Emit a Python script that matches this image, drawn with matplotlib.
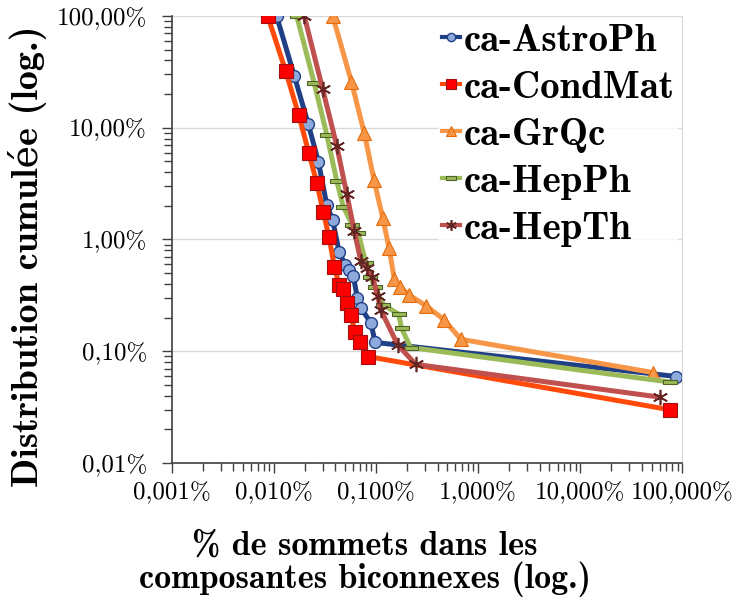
import numpy as np
import matplotlib
matplotlib.use("Agg")
import matplotlib.pyplot as plt
from matplotlib.ticker import FuncFormatter, LogLocator

# % de sommets (x) / distribution cumulee (y), both in percent
astro_x = [0.0106, 0.0158, 0.0217, 0.0272, 0.0329, 0.0376, 0.0434, 0.0497, 0.0547,
           0.0598, 0.0656, 0.0713, 0.0893, 0.0977, 87.4]
astro_y = [100, 29.1, 10.7, 4.97, 2.04, 1.48, 0.78, 0.593, 0.535,
           0.472, 0.299, 0.243, 0.178, 0.120, 0.0594]

cond_x = [0.00867, 0.0130, 0.01746, 0.0219, 0.0262, 0.0304, 0.0346, 0.0390, 0.0434,
          0.0474, 0.0524, 0.0565, 0.0618, 0.0697, 0.0830, 76.3]
cond_y = [100, 32.2, 13.0, 5.99, 3.23, 1.75, 1.05, 0.573, 0.393,
          0.361, 0.269, 0.212, 0.150, 0.120, 0.0897, 0.0299]

grqc_x = [0.0376, 0.0573, 0.0767, 0.0955, 0.1164, 0.134, 0.151, 0.173, 0.210,
          0.309, 0.465, 0.676, 51.6]
grqc_y = [100, 25.8, 8.93, 3.39, 1.55, 0.841, 0.441, 0.377, 0.319,
          0.255, 0.191, 0.128, 0.0645]

hepph_x = [0.0167, 0.0247, 0.0329, 0.0412, 0.0477, 0.0586, 0.0670, 0.0793, 0.0873,
           0.0977, 0.118, 0.166, 0.178, 0.218, 76.3]
hepph_y = [100, 25.3, 8.68, 3.34, 1.97, 1.35, 1.14, 0.621, 0.466,
           0.374, 0.260, 0.215, 0.160, 0.108, 0.0529]

hepth_x = [0.0198, 0.0300, 0.0412, 0.0516, 0.0612, 0.0708, 0.0811, 0.0920, 0.104,
           0.111, 0.163, 0.245, 60.8]
hepth_y = [100, 22.1, 6.88, 2.56, 1.19, 0.644, 0.554, 0.466, 0.309,
           0.235, 0.114, 0.0763, 0.0388]

labels = ["ca-AstroPh", "ca-CondMat", "ca-GrQc", "ca-HepPh", "ca-HepTh"]

bold = ["cmb10", "DejaVu Serif"]
roman = ["cmr10", "DejaVu Serif"]

# wide flat rectangle for the HepPh marker
dash = [(-1, -0.32), (1, -0.32), (1, 0.32), (-1, 0.32), (-1, -0.32)]

fig = plt.figure(figsize=(7.39, 6.06), dpi=100)
ax = fig.add_axes([0.2327, 0.236, 0.6905, 0.7376])

lw = 3.6
ax.plot(astro_x, astro_y, color="#1F3F86", lw=lw, marker="o", ms=8.5,
        mfc="#8EA9DB", mec="#1F3F86", mew=1.0, solid_joinstyle="round", label=labels[0])
ax.plot(cond_x, cond_y, color="#FF4A0A", lw=lw, marker="s", ms=10,
        mfc="#FF0000", mec="#A01010", mew=0.8, solid_joinstyle="round", label=labels[1])
ax.plot(grqc_x, grqc_y, color="#F79646", lw=lw, marker="^", ms=10,
        mfc="#F79646", mec="#E46C0A", mew=0.8, solid_joinstyle="round", label=labels[2])
ax.plot(hepph_x, hepph_y, color="#9BBB59", lw=lw, marker=dash, ms=10,
        mfc="#9BBB59", mec="#4F6228", mew=0.8, solid_joinstyle="round", label=labels[3])
ax.plot(hepth_x, hepth_y, color="#C0504D", lw=lw, marker=(6, 2, 0), ms=11,
        mec="#632523", mew=1.2, solid_joinstyle="round", label=labels[4])

ax.set_xscale("log")
ax.set_yscale("log")
ax.set_xlim(0.001, 100)
ax.set_ylim(0.01, 100)

ax.xaxis.set_major_locator(LogLocator(base=10, numticks=10))
ax.yaxis.set_major_locator(LogLocator(base=10, numticks=10))
ax.xaxis.set_minor_locator(LogLocator(base=10, subs=np.arange(2, 10), numticks=20))
ax.yaxis.set_minor_locator(LogLocator(base=10, subs=np.arange(2, 10), numticks=20))
ax.xaxis.set_minor_formatter(FuncFormatter(lambda v, p: ""))
ax.yaxis.set_minor_formatter(FuncFormatter(lambda v, p: ""))
ax.xaxis.set_major_formatter(FuncFormatter(lambda v, p: ("%.3f%%" % v).replace(".", ",")))
ax.yaxis.set_major_formatter(FuncFormatter(lambda v, p: ("%.2f%%" % v).replace(".", ",")))

for lab in ax.get_xticklabels() + ax.get_yticklabels():
    lab.set_family(roman)
    lab.set_fontsize(18)

ax.tick_params(which="both", direction="out", color="#404040", width=1.0)
ax.tick_params(which="major", length=7)
ax.tick_params(which="minor", length=6)
ax.tick_params(axis="y", which="major", pad=11)
ax.tick_params(axis="x", which="major", pad=6.5)

ax.grid(True, which="major", axis="y", color="#D9D9D9", lw=1.0)
ax.set_axisbelow(True)
ax.spines["top"].set_visible(False)
ax.spines["right"].set_color("#D9D9D9")
ax.spines["left"].set_color("#404040")
ax.spines["bottom"].set_color("#404040")
ax.spines["left"].set_linewidth(1.2)
ax.spines["bottom"].set_linewidth(1.2)

ax.set_ylabel("Distribution cumulée (log.)", family=bold, fontsize=27.5)
ax.yaxis.set_label_coords(-0.245, 0.463)
ax.set_xlabel("% de sommets dans les\ncomposantes biconnexes (log.)", family=bold,
              fontsize=24.5, linespacing=1.0)
ax.xaxis.set_label_coords(0.378, -0.151)

leg = ax.legend(loc="upper right", bbox_to_anchor=(1.0, 1.0), frameon=True,
                prop={"family": bold, "size": 28}, handlelength=0.45,
                handletextpad=0.1, labelspacing=0.3, borderaxespad=0.1,
                borderpad=0.1, markerscale=0.7)
leg.get_frame().set_facecolor("white")
leg.get_frame().set_edgecolor("none")
for h in leg.get_lines():
    h.set_linewidth(3)

fig.savefig("out.png", dpi=100)
